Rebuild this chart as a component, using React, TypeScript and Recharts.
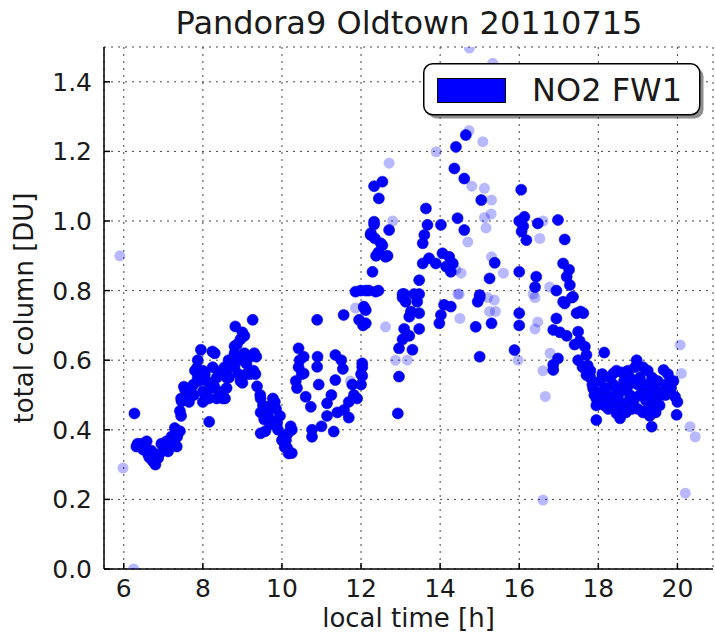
import React from 'react';
import { ScatterChart, Scatter, XAxis, YAxis, CartesianGrid, Legend } from 'recharts';

// ---- data (local time [h], total column [DU]) ----
const darkTime = [
  6.27, 6.32, 6.45, 6.58, 6.49, 6.62, 6.74, 6.8, 6.87, 6.7, 7.0, 7.08, 7.12, 7.21, 7.29, 7.34, 7.42, 7.42, 7.45,
  7.46, 7.55, 7.52, 7.6, 7.45, 7.76, 7.77, 7.85, 7.8, 7.87, 7.87, 7.9, 7.95, 8.0, 8.0, 8.0, 8.05, 8.06, 8.15, 8.16,
  8.24, 8.3, 8.25, 8.27, 8.3, 8.35, 8.4, 8.44, 8.45, 8.5, 8.5, 8.55, 8.56, 8.6, 8.65, 8.66, 8.78, 8.8, 8.8, 8.8,
  8.82, 8.86, 8.9, 8.95, 8.95, 9.0, 9.0, 9.05, 9.05, 9.1, 9.2, 9.2, 9.26, 9.28, 9.3, 9.35, 9.33, 9.37, 9.45, 9.46,
  9.52, 9.46, 9.46, 9.58, 9.6, 9.66, 9.7, 9.71, 9.77, 9.82, 9.85, 9.88, 9.95, 10.0, 10.05, 10.07, 10.13, 10.15,
  10.17, 10.22, 10.25, 10.25,
  6.35, 6.55, 6.65, 6.9, 6.95, 7.15, 7.25, 7.35, 6.75, 8.1, 8.2, 8.35, 8.6, 8.7, 8.9, 9.1, 7.7, 7.65,
  9.55, 9.65, 9.9, 10.1,
  10.42, 10.55, 10.42, 10.55, 10.35, 10.38, 10.6, 10.73, 10.9, 10.89, 10.93, 10.89, 10.76, 10.76, 11.0, 11.14,
  11.25, 11.35, 11.35, 11.5, 11.54, 11.31, 11.14, 11.4, 11.57, 11.69, 11.82, 11.78, 12.0, 12.03, 11.69, 11.56,
  11.95, 12.05, 11.86, 12.08, 12.2, 12.44, 12.29, 12.38, 12.62, 12.54, 12.25, 12.33, 12.71, 13.05, 12.96, 12.93,
  12.12, 12.12, 12.03, 12.03, 12.0, 11.9, 10.45, 10.5,
  12.33, 12.54, 12.45, 13.64, 12.33, 12.24, 12.35, 12.5, 12.44, 12.67, 11.99, 12.37, 12.12, 12.07, 13.09, 13.47,
  13.47, 13.56, 13.72, 13.89, 13.56, 13.6, 13.68, 14.02, 14.06, 14.23, 14.15, 14.32, 14.27, 14.44, 14.61, 14.65,
  14.4, 14.36, 14.61, 15.04, 16.05, 15.38, 16.0, 15.25, 15.0, 16.0, 16.06, 16.18, 16.13, 16.1, 16.47, 16.98, 17.15,
  16.43, 16.4, 17.11, 17.26, 17.2, 17.28, 16.94, 17.36, 17.11, 17.45, 17.62,
  13.05, 13.13, 13.34, 13.42, 13.26, 13.47, 13.22, 13.09, 13.47, 13.22, 12.96, 13.3, 13.05, 14.1, 14.27, 14.02,
  13.98, 15.0, 14.95, 14.9, 15.0, 15.3, 16.0, 16.0, 15.88,
  17.33, 17.15, 17.55, 16.94, 16.86, 17.03, 17.2, 17.49, 17.53, 17.4, 17.66, 17.7, 17.49, 17.6, 17.73, 17.8, 17.7,
  18.15, 16.98, 16.86, 16.86, 17.87, 17.95, 17.95, 18.05, 18.1, 18.17, 18.1, 18.38, 18.46, 18.6, 18.75, 18.97,
  18.93, 18.38, 18.55, 18.72, 18.88, 19.05, 18.33, 18.38, 18.46, 18.6, 18.75, 18.9, 18.55, 19.13, 19.2, 19.13,
  19.3, 19.35, 19.35, 19.43, 19.5, 19.65, 19.76, 19.5, 19.7, 19.84, 19.94, 20.0, 19.98, 19.25, 19.36, 19.13,
  18.2, 18.25, 18.7, 19.0, 19.05, 19.6, 19.4, 18.8, 19.55, 19.2, 18.65, 18.5, 17.8, 17.85, 17.9, 17.95,
  18.3, 18.45, 18.8, 19.0, 19.3, 19.45, 19.25, 18.85, 18.15, 19.7, 19.9,
];
const darkValue = [
  0.447, 0.352, 0.36, 0.367, 0.343, 0.328, 0.309, 0.3, 0.319, 0.34, 0.343, 0.367, 0.338, 0.381, 0.405, 0.352, 0.396, 0.454, 0.44,
  0.482, 0.515, 0.524, 0.49, 0.49, 0.53, 0.5, 0.578, 0.57, 0.6, 0.55, 0.54, 0.63, 0.57, 0.51, 0.48, 0.56, 0.5, 0.49, 0.423,
  0.625, 0.62, 0.58, 0.53, 0.52, 0.49, 0.56, 0.568, 0.5, 0.51, 0.49, 0.58, 0.49, 0.52, 0.6, 0.55, 0.597, 0.62, 0.64, 0.58,
  0.697, 0.645, 0.56, 0.66, 0.54, 0.68, 0.535, 0.62, 0.67, 0.56, 0.61, 0.56, 0.716, 0.57, 0.62, 0.61, 0.56, 0.525, 0.5, 0.49,
  0.47, 0.45, 0.39, 0.396, 0.44, 0.466, 0.415, 0.428, 0.49, 0.48, 0.46, 0.42, 0.44, 0.37, 0.38, 0.35, 0.348, 0.39,
  0.332, 0.41, 0.4, 0.333,
  0.36, 0.35, 0.32, 0.33, 0.36, 0.36, 0.37, 0.38, 0.33, 0.54, 0.52, 0.55, 0.55, 0.58, 0.6, 0.59, 0.52, 0.48,
  0.43, 0.44, 0.4, 0.37,
  0.634, 0.61, 0.58, 0.562, 0.54, 0.52, 0.495, 0.466, 0.61, 0.581, 0.53, 0.716, 0.4, 0.38, 0.41, 0.476,
  0.5, 0.543, 0.615, 0.6, 0.575, 0.395, 0.44, 0.45, 0.457, 0.48, 0.5, 0.53, 0.56, 0.591, 0.435, 0.73,
  0.716, 0.7, 0.797, 0.75, 0.8, 0.8, 0.854, 0.9, 0.897, 0.93, 0.965, 0.99, 0.974, 0.78, 0.553, 0.447,
  0.744, 0.706, 0.58, 0.555, 0.53, 0.49, 0.6, 0.56,
  1.1, 1.113, 1.065, 1.036, 0.998, 0.96, 0.95, 0.936, 0.91, 0.9, 0.8, 0.797, 0.8, 0.754, 0.79, 0.79,
  0.83, 0.878, 0.893, 0.878, 0.936, 0.96, 0.989, 0.989, 0.907, 0.897, 0.869, 0.878, 0.854, 1.008, 0.974, 1.247,
  1.213, 1.151, 1.122, 1.06, 1.09, 0.88, 0.854, 0.835, 0.787, 1.0, 0.97, 0.945, 1.012, 0.985, 0.993, 1.003, 0.947,
  0.84, 0.81, 0.878, 0.86, 0.84, 0.816, 0.8, 0.782, 0.768, 0.735, 0.735,
  0.79, 0.768, 0.79, 0.768, 0.74, 0.735, 0.725, 0.69, 0.69, 0.67, 0.634, 0.63, 0.66, 0.759, 0.754, 0.73,
  0.706, 0.78, 0.768, 0.696, 0.61, 0.706, 0.735, 0.7, 0.629,
  0.78, 0.763, 0.74, 0.72, 0.687, 0.68, 0.67, 0.682, 0.655, 0.645, 0.639, 0.615, 0.6, 0.58, 0.585, 0.57, 0.557,
  0.622, 0.605, 0.572, 0.587, 0.519, 0.49, 0.428, 0.54, 0.51, 0.495, 0.56, 0.562, 0.57, 0.565, 0.57, 0.6,
  0.58, 0.53, 0.51, 0.52, 0.535, 0.55, 0.495, 0.476, 0.447, 0.465, 0.48, 0.485, 0.433, 0.51, 0.485, 0.45,
  0.44, 0.409, 0.47, 0.49, 0.51, 0.572, 0.56, 0.54, 0.53, 0.52, 0.495, 0.48, 0.443, 0.57, 0.55, 0.58,
  0.52, 0.46, 0.45, 0.46, 0.5, 0.5, 0.52, 0.5, 0.47, 0.53, 0.54, 0.49, 0.55, 0.53, 0.5, 0.47,
  0.55, 0.52, 0.55, 0.53, 0.5, 0.45, 0.46, 0.46, 0.47, 0.5, 0.54,
];
const lightTime = [
  5.9, 5.98, 6.25, 11.73, 11.86, 12.62, 12.87, 13.17, 12.71, 12.8, 14.4, 14.7, 14.73, 14.8, 13.9, 15.08, 15.12,
  15.3, 15.12, 15.29, 15.16, 15.3, 15.6, 14.45, 14.74, 15.33, 14.5, 14.48, 15.2, 15.37, 15.25, 15.4, 15.97, 16.6,
  16.52, 16.77, 16.4, 16.35, 16.47, 16.4, 16.78, 16.6, 16.66, 20.07, 20.1, 20.32, 20.45, 20.2, 16.6, 14.53,
];
const lightValue = [
  0.9, 0.29, 0.0, 0.54, 0.75, 0.696, 0.6, 0.6, 1.166, 1.0, 0.86, 0.94, 1.26, 1.1, 1.199, 1.228, 1.094,
  1.06, 1.01, 1.02, 0.98, 0.897, 0.85, 0.79, 1.497, 1.453, 0.72, 0.79, 0.78, 0.773, 0.74, 0.74, 0.6, 1.0,
  0.95, 0.81, 0.78, 0.79, 0.71, 0.69, 0.62, 0.57, 0.496, 0.644, 0.562, 0.409, 0.38, 0.218, 0.198, 0.85,
];
const xTicks = [6, 8, 10, 12, 14, 16, 18, 20];
const yTicks = [0, 0.2, 0.4, 0.6, 0.8, 1.0, 1.2, 1.4];
const titleText = 'Pandora9 Oldtown 20110715';
const seriesName = 'NO2 FW1';
const xLabel = 'local time [h]';
const yLabel = 'total column [DU]';

const darkData = darkTime.map((t, i) => ({ t, v: darkValue[i] }));
const lightData = lightTime.map((t, i) => ({ t, v: lightValue[i] }));

const FONT = '"DejaVu Sans", Verdana, sans-serif';
const TXT = '#1a1a1a';

const XTick = (p: any) => (
  <text x={p.x} y={p.y} textAnchor="middle" fontFamily={FONT} fontSize={25} fill={TXT}>
    {p.payload.value}
  </text>
);
const YTick = (p: any) => (
  <text x={p.x} y={p.y} dy="0.36em" textAnchor="end" fontFamily={FONT} fontSize={25} fill={TXT}>
    {Number(p.payload.value).toFixed(1)}
  </text>
);
const NoTick = () => <g />;

const XLabel = (p: any) => {
  const vb = p.viewBox || {};
  return (
    <text x={vb.x + vb.width / 2} y={vb.y + 58} textAnchor="middle" fontFamily={FONT} fontSize={26} fill={TXT}>
      {xLabel}
    </text>
  );
};
const YLabel = (p: any) => {
  const vb = p.viewBox || {};
  const cx = 33;
  const cy = vb.y + vb.height / 2;
  return (
    <text x={cx} y={cy} transform={`rotate(-90, ${cx}, ${cy})`} textAnchor="middle" fontFamily={FONT} fontSize={26} fill={TXT}>
      {yLabel}
    </text>
  );
};

const LegendBox = () => (
  <svg width={290} height={62} style={{ display: 'block' }}>
    <rect x={4.5} y={4.5} width={276} height={51} rx={9} fill="#333" opacity={0.55} />
    <rect x={0.75} y={0.75} width={276} height={51} rx={9} fill="#fff" stroke="#000" strokeWidth={1.5} />
    <rect x={14.5} y={15.5} width={68} height={24} fill="#0000ff" stroke="#000" strokeWidth={1} />
    <text x={109} y={38} fontFamily={FONT} fontSize={32} fill={TXT}>
      {seriesName}
    </text>
  </svg>
);

export default function App() {
  return (
    <div style={{ position: 'absolute', left: 0, top: 0, width: 715, height: 638, background: '#fff' }}>
      <ScatterChart width={715} height={638} margin={{ top: 47, right: 2, bottom: 29, left: 44 }}>
        <CartesianGrid stroke="#444" strokeDasharray="2 5" strokeWidth={1} />
        <XAxis
          type="number"
          dataKey="t"
          domain={[5.5, 20.9]}
          ticks={xTicks}
          allowDataOverflow
          height={40}
          stroke="#000"
          strokeWidth={1.5}
          tickSize={-6}
          tickMargin={34}
          tick={<XTick />}
          label={<XLabel />}
        />
        <XAxis
          xAxisId="top"
          orientation="top"
          type="number"
          dataKey="t"
          domain={[5.5, 20.9]}
          ticks={xTicks}
          allowDataOverflow
          height={0}
          stroke="#000"
          strokeWidth={1.5}
          tickSize={-6}
          tick={<NoTick />}
        />
        <YAxis
          type="number"
          dataKey="v"
          domain={[0, 1.5]}
          ticks={yTicks}
          allowDataOverflow
          width={60}
          stroke="#000"
          strokeWidth={1.5}
          tickSize={-6}
          tickMargin={18}
          tick={<YTick />}
          label={<YLabel />}
        />
        <YAxis
          yAxisId="right"
          orientation="right"
          type="number"
          dataKey="v"
          domain={[0, 1.5]}
          ticks={yTicks}
          allowDataOverflow
          width={0}
          stroke="#000"
          strokeWidth={1.5}
          tickSize={-6}
          tick={<NoTick />}
        />
        <Legend
          layout="horizontal"
          verticalAlign="middle"
          align="center"
          content={<LegendBox />}
          wrapperStyle={{ position: 'absolute', left: 423, top: 63, width: 290, height: 62 }}
        />
        <Scatter
          name="flagged"
          data={lightData}
          isAnimationActive={false}
          legendType="none"
          shape={(p: any) => <circle cx={p.cx} cy={p.cy} r={5.5} fill="#0000ff" fillOpacity={0.28} />}
        />
        <Scatter
          name={seriesName}
          data={darkData}
          isAnimationActive={false}
          shape={(p: any) => <circle cx={p.cx} cy={p.cy} r={5.5} fill="#0000ff" stroke="#0000d8" strokeWidth={0.6} />}
        />
      </ScatterChart>
      <svg width={715} height={46} style={{ position: 'absolute', left: 0, top: 0, pointerEvents: 'none' }}>
        <rect x={0} y={0} width={715} height={46} fill="#fff" />
        <text x={409} y={34} textAnchor="middle" fontFamily={FONT} fontSize={32} fill={TXT}>
          {titleText}
        </text>
      </svg>
    </div>
  );
}
